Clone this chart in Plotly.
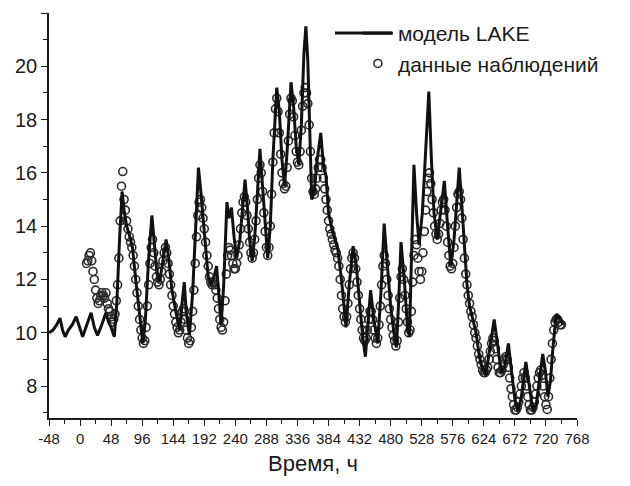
import plotly.graph_objects as go

# Model LAKE: vertices (time, value)
model_time = [-48, -42, -36, -31, -27, -23, -18, -12, -6, -1, 4, 9, 13, 17, 22, 27, 32, 36, 40, 44,
              48, 53, 57, 61, 65, 68, 72, 77, 81, 86, 91, 97, 101, 106, 111, 115, 119, 123, 128, 133,
              137, 142, 148, 154, 158, 161, 164, 169, 174, 179, 183, 187, 191, 195, 198, 203, 207, 211, 214, 218,
              222, 227, 230, 234, 238, 242, 247, 251, 255, 259, 262, 266, 270, 274, 278, 282, 286, 290, 294, 298,
              304, 308, 312, 316, 320, 326, 330, 334, 338, 342, 346, 349, 352, 355, 358, 362, 366, 372, 376, 380,
              384, 390, 398, 404, 411, 416, 422, 427, 432, 437, 441, 445, 449, 454, 460, 465, 470, 475, 480, 485,
              489, 493, 496, 501, 506, 509, 512, 516, 520, 524, 529, 534, 539, 543, 547, 552, 557, 563, 568, 573,
              578, 582, 586, 590, 594, 598, 602, 607, 612, 616, 620, 627, 632, 636, 640, 645, 651, 656, 662, 667,
              672, 677, 682, 689, 694, 700, 705, 710, 715, 719, 723, 727, 731, 736, 740, 743, 746]
model_temp = [10.0, 10.1, 10.3, 10.55, 10.1, 9.85, 10.1, 10.3, 10.6, 10.2, 9.85, 10.2, 10.5, 10.75, 10.2, 9.9, 10.2, 10.5, 10.75, 10.4,
              10.2, 9.85, 11.2, 13.5, 15.3, 14.6, 14.0, 13.6, 13.2, 12.0, 10.8, 9.6, 10.5, 12.8, 14.4, 13.4, 12.2, 11.9, 12.8, 13.5,
              12.8, 11.6, 10.8, 10.1, 11.2, 11.9, 10.8, 9.9, 11.5, 14.2, 16.2, 15.2, 14.1, 13.0, 12.1, 11.8, 12.1, 12.5, 11.5, 10.3,
              11.8, 14.9, 14.3, 14.7, 13.6, 12.8, 13.5, 14.8, 15.75, 14.6, 13.5, 12.7, 13.6, 15.2, 16.9, 15.5, 14.0, 12.8, 14.0, 16.5,
              19.2, 18.3, 16.5, 15.5, 16.8, 19.4, 18.5, 17.0, 16.3, 17.8, 20.5, 21.5, 20.2, 18.0, 15.0, 15.3, 16.4, 17.5, 16.3, 15.9,
              14.5, 13.8, 13.2, 12.0, 10.2, 11.8, 13.25, 12.5, 11.0, 9.8, 9.1, 10.3, 11.6, 10.5, 9.6, 11.5, 14.1, 12.5, 11.0, 10.0,
              9.45, 11.5, 13.4, 12.0, 10.2, 9.85, 12.5, 16.3, 14.5, 13.3, 14.5, 17.0, 19.05, 16.5, 14.5, 13.5, 14.5, 15.7, 14.0, 12.5,
              13.5, 15.0, 16.2, 14.8, 13.2, 11.8, 11.0, 10.5, 10.0, 9.3, 8.8, 8.4, 9.2, 10.0, 10.5, 9.6, 8.5, 8.7, 9.6, 8.5,
              7.5, 7.05, 7.6, 8.9, 8.0, 7.05, 7.3, 8.3, 9.2, 8.6, 7.6, 8.2, 9.5, 10.7, 10.6, 10.5, 10.3]

# Observations: every 2 hours starting at t = 10 h (one row = 24 h)
obs_start = 10
obs_step = 2
obs_temp = [
    12.6, 12.7, 12.9, 13.0, 12.7, 12.3, 12.0, 11.6, 11.3, 11.1, 11.2, 11.4,   # 10..32
    11.5, 11.4, 11.3, 11.5, 11.1, 10.9, 10.8, 10.6, 10.4, 10.5, 10.7, 11.2,   # 34..56
    11.8, 12.8, 14.2, 15.5, 16.05, 15.0, 14.6, 14.2, 13.9, 13.6, 13.4, 13.2,  # 58..80
    12.9, 12.5, 12.0, 11.5, 11.0, 10.5, 10.1, 9.8, 9.6, 9.7, 10.2, 11.0,      # 82..104
    11.8, 12.6, 13.2, 13.5, 13.0, 12.5, 12.1, 11.9, 11.8, 12.0, 12.3, 12.7,   # 106..128
    13.0, 13.2, 13.0, 12.6, 12.2, 11.8, 11.4, 11.0, 10.7, 10.4, 10.2, 10.0,   # 130..152
    10.1, 10.4, 10.8, 10.9, 10.5, 10.1, 9.8, 9.6, 9.7, 10.2, 10.8, 11.6,      # 154..176
    12.6, 13.6, 14.4, 14.9, 15.0, 14.7, 14.3, 13.9, 13.4, 12.9, 12.5, 12.1,   # 178..200
    11.9, 11.8, 11.9, 11.8, 11.6, 11.3, 10.9, 10.5, 10.2, 10.1, 10.4, 11.2,   # 202..224
    12.2, 12.9, 13.2, 13.1, 12.9, 12.6, 12.4, 12.4, 12.6, 12.9, 13.3, 13.9,   # 226..248
    14.5, 14.9, 15.1, 14.9, 14.4, 13.9, 13.4, 13.0, 12.8, 13.0, 13.5, 14.2,   # 250..272
    15.0, 15.8, 16.3, 16.0, 15.3, 14.5, 13.8, 13.2, 12.9, 13.2, 14.0, 15.2,   # 274..296
    16.4, 17.5, 18.4, 18.8, 18.3, 17.5, 16.7, 16.0, 15.6, 15.4, 15.5, 16.2,   # 298..320
    17.2, 18.2, 18.8, 18.7, 18.1, 17.4, 16.8, 16.4, 16.3, 16.8, 17.6, 18.5,   # 322..344
    19.0, 19.2, 19.0, 18.6, 17.8, 16.8, 15.8, 15.3, 15.2, 15.4, 15.8, 16.2,   # 346..368
    16.5, 16.5, 16.2, 15.8, 15.4, 15.0, 14.6, 14.2, 13.9, 13.7, 13.5, 13.3,   # 370..392
    13.1, 13.0, 12.8, 12.5, 12.0, 11.4, 10.9, 10.6, 10.4, 10.6, 11.1, 11.8,   # 394..416
    12.4, 12.8, 13.0, 12.8, 12.4, 11.9, 11.4, 10.9, 10.5, 10.1, 9.8, 9.7,     # 418..440
    9.8, 10.1, 10.5, 10.8, 10.8, 10.5, 10.1, 9.8, 9.6, 9.8, 10.3, 11.0,       # 442..464
    11.8, 12.5, 12.9, 12.6, 12.0, 11.4, 10.9, 10.5, 10.2, 9.9, 9.7, 9.5,      # 466..488
    9.7, 10.4, 11.3, 12.1, 12.4, 12.0, 11.4, 10.9, 10.4, 10.0, 10.1, 10.8,    # 490..512
    11.9, 12.9, 13.5, 13.3, 12.8, 12.3, 12.0, 12.3, 13.0, 13.8, 14.6, 15.3,   # 514..536
    15.8, 16.0, 15.6, 15.0, 14.5, 14.0, 13.7, 13.5, 13.7, 14.1, 14.6, 14.9,   # 538..560
    15.0, 14.6, 14.0, 13.4, 12.9, 12.5, 12.4, 12.6, 13.2, 14.0, 14.7, 15.2,   # 562..584
    15.3, 15.0, 14.3, 13.5, 12.8, 12.2, 11.8, 11.4, 11.1, 10.8, 10.6, 10.3,   # 586..608
    10.0, 9.8, 9.5, 9.2, 9.0, 8.8, 8.6, 8.5, 8.5, 8.6, 8.7, 9.0,              # 610..632
    9.3, 9.6, 9.8, 9.7, 9.4, 9.0, 8.7, 8.5, 8.5, 8.6, 8.8, 9.0,               # 634..656
    9.1, 9.0, 8.7, 8.3, 7.9, 7.6, 7.3, 7.1, 7.1, 7.2, 7.4, 7.7,               # 658..680
    8.0, 8.3, 8.5, 8.3, 8.0, 7.6, 7.3, 7.1, 7.1, 7.2, 7.4, 7.7,               # 682..704
    8.0, 8.3, 8.5, 8.6, 8.4, 8.0, 7.6, 7.3, 7.12, 7.6, 8.3, 9.0,              # 706..728
    9.6, 10.1, 10.4, 10.5, 10.5, 10.4, 10.3, 10.3,                            # 730..744
]
obs_time = [obs_start + obs_step * i for i in range(len(obs_temp))]

x_ticks = [-48, 0, 48, 96, 144, 192, 240, 288, 336, 384, 432, 480, 528, 576, 624, 672, 720, 768]
y_ticks = [8, 10, 12, 14, 16, 18, 20, 22]

FONT = "Liberation Sans, Arial, sans-serif"
INK = "#1a1a1a"

fig = go.Figure()
fig.add_trace(go.Scatter(
    x=obs_time, y=obs_temp, mode="markers", name="данные наблюдений",
    marker=dict(symbol="circle-open", size=8, color="#2a2a2a", line=dict(width=1.6, color="#2a2a2a")),
))
fig.add_trace(go.Scatter(
    x=model_time, y=model_temp, mode="lines", name="модель LAKE",
    line=dict(color="#111111", width=3),
))

# the page body has an 8 px default margin, so the figure is sized and offset for it
fig.update_layout(
    width=622, height=478,
    margin=dict(l=41, r=53, t=5, b=68),
    paper_bgcolor="white", plot_bgcolor="white",
    font=dict(family=FONT, color=INK),
    showlegend=True,
    legend=dict(x=0.585, y=1.0, xanchor="left", yanchor="top",
                font=dict(size=21, family=FONT, color=INK),
                traceorder="reversed", bgcolor="rgba(0,0,0,0)",
                tracegroupgap=0),
    shapes=[dict(type="line", xref="paper", yref="paper",
                 x0=(327 - 41) / 528, x1=(384 - 41) / 528,
                 y0=1 - (25 - 5) / 405, y1=1 - (25 - 5) / 405,
                 line=dict(color="#111111", width=3))],
)
fig.update_xaxes(
    range=[-48, 768], tickvals=x_ticks, ticktext=[str(v) for v in x_ticks],
    ticks="outside", ticklen=6, tickwidth=1.3, tickcolor=INK,
    minor=dict(dtick=24, tick0=-48, ticks="outside", ticklen=4, tickwidth=1.2, tickcolor=INK),
    showline=True, linecolor=INK, linewidth=1.5, showgrid=False, zeroline=False,
    tickfont=dict(size=15, family=FONT, color=INK), automargin=False,
    title=dict(text="Время, ч", font=dict(size=22, family=FONT, color=INK), standoff=10),
)
fig.update_yaxes(
    range=[6.8, 22], tickvals=y_ticks, ticktext=[str(v) for v in y_ticks],
    ticks="outside", ticklen=6, tickwidth=1.3, tickcolor=INK,
    minor=dict(dtick=1, tick0=0, ticks="outside", ticklen=4, tickwidth=1.2, tickcolor=INK),
    showline=True, linecolor=INK, linewidth=1.5, showgrid=False, zeroline=False,
    tickfont=dict(size=20, family=FONT, color=INK), automargin=False,
)

fig.write_html("out.html")
